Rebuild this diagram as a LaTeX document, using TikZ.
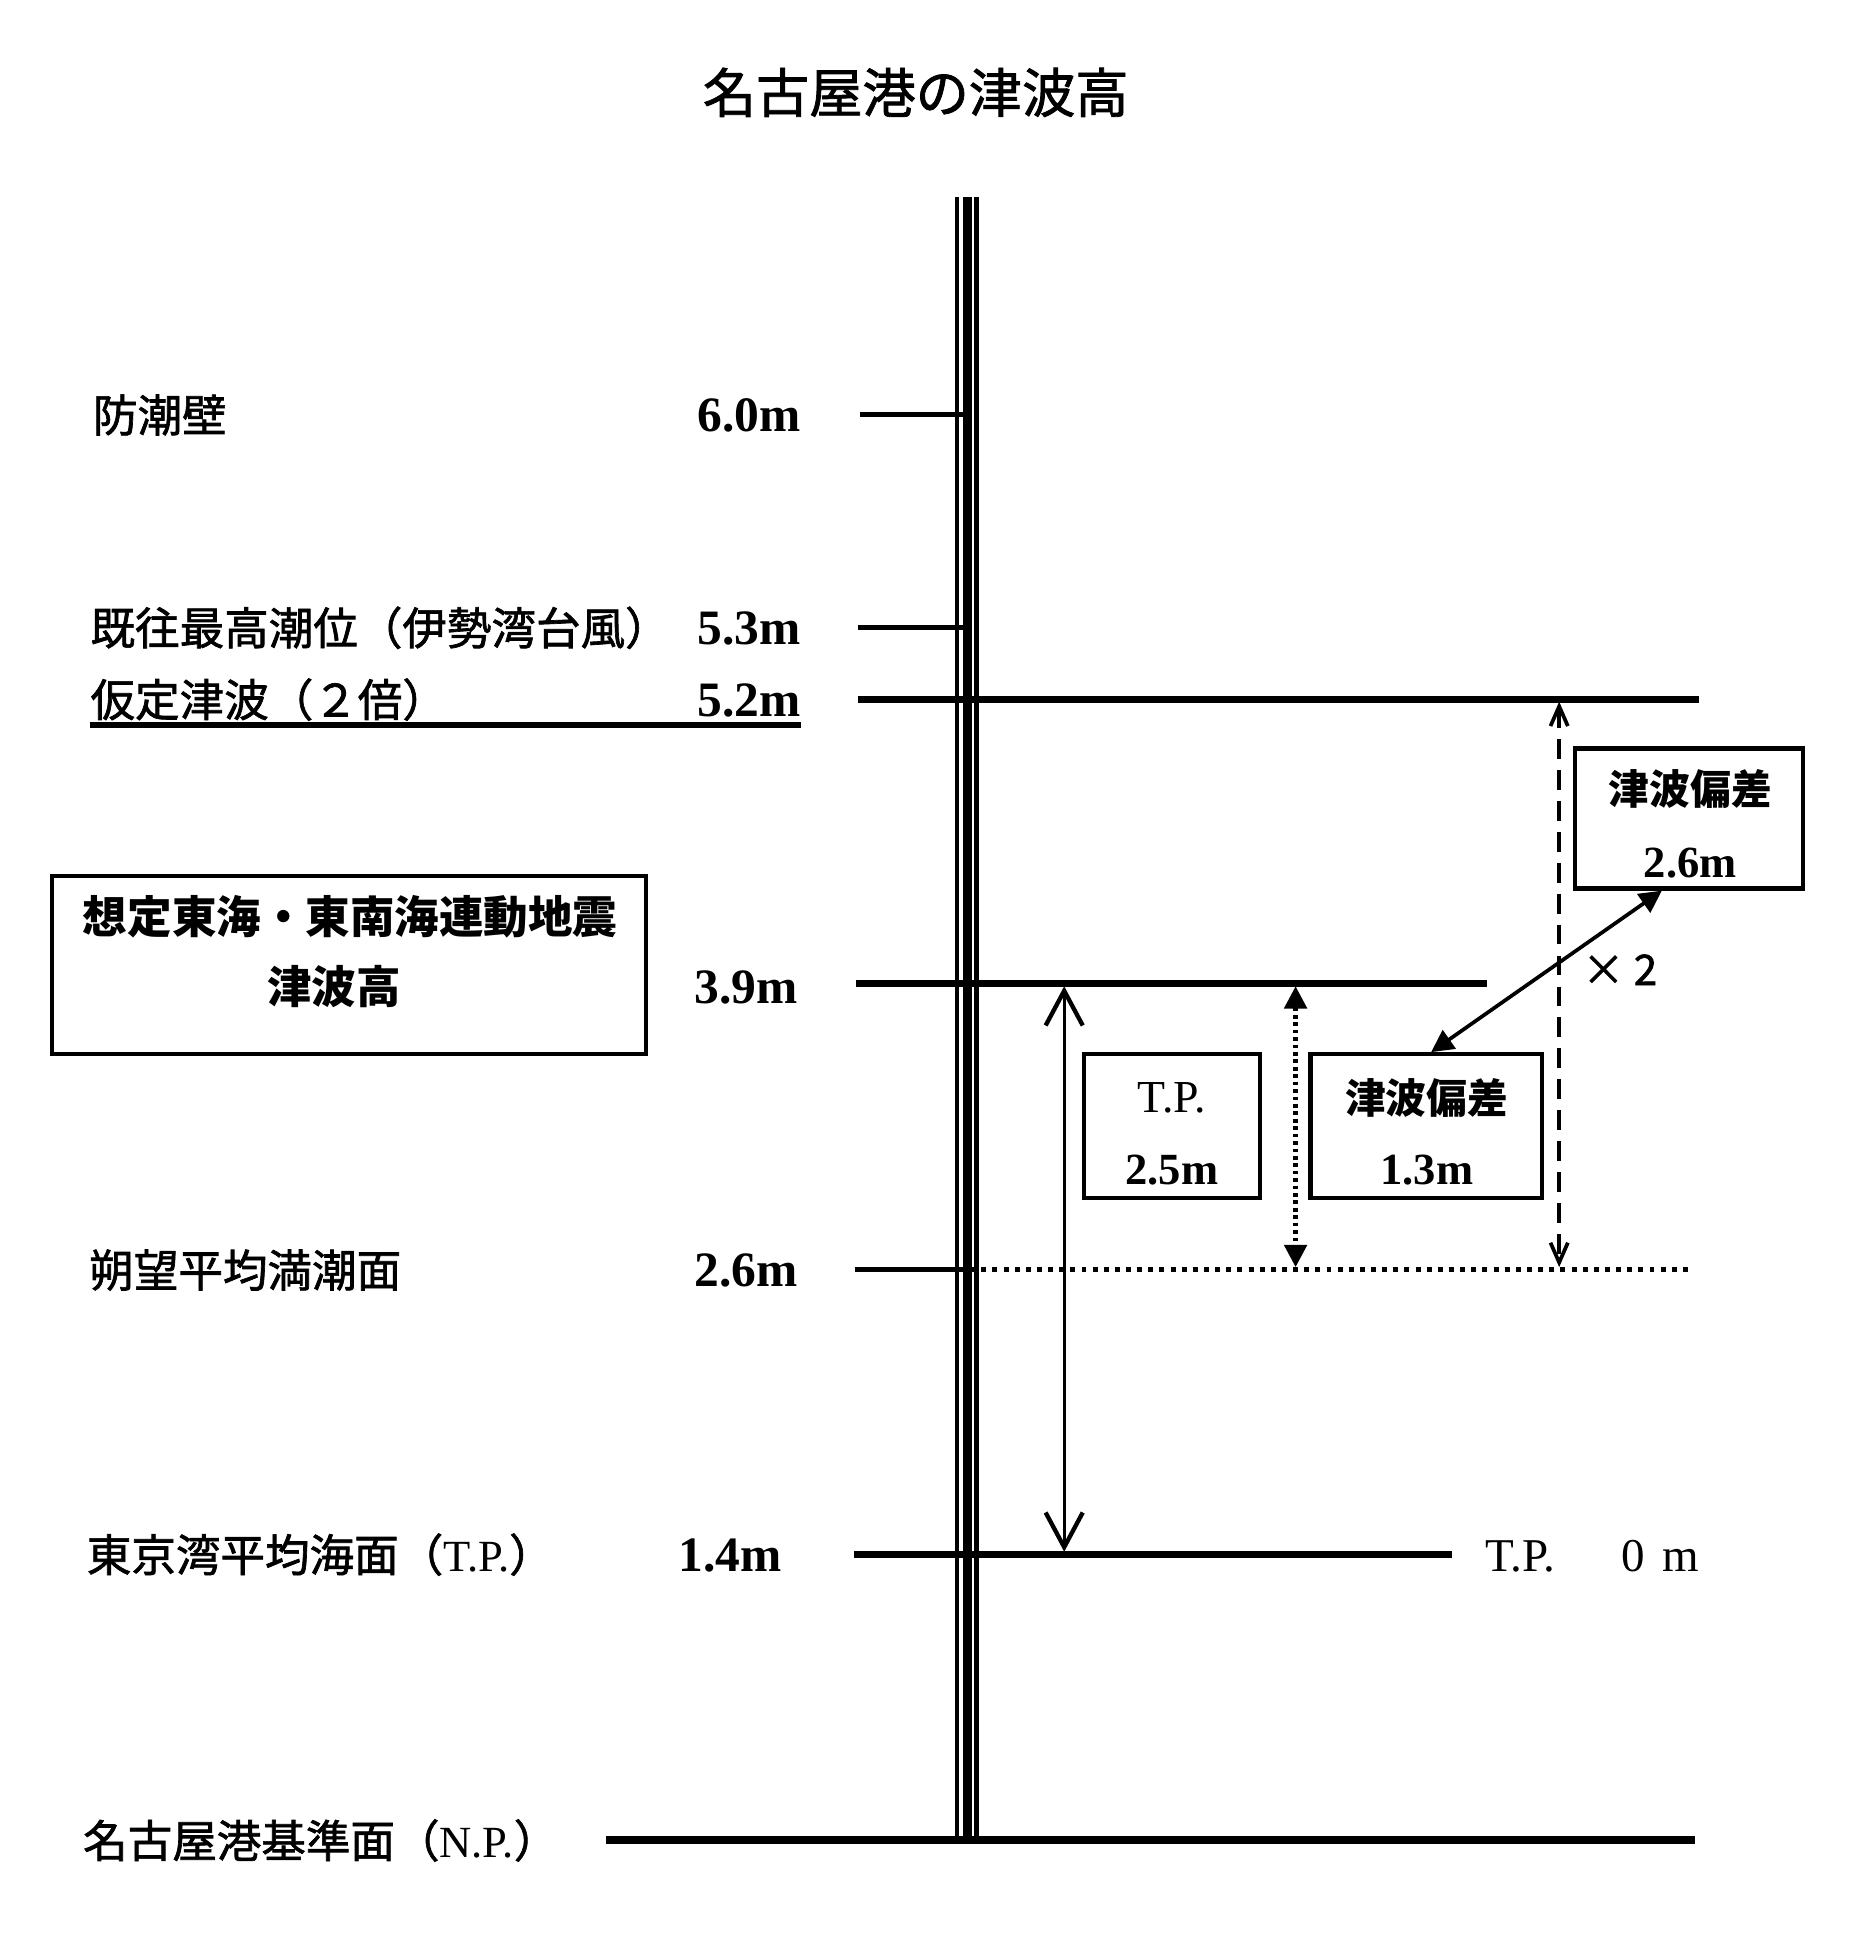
\documentclass[tikz,border=0pt]{standalone}
\usepackage{fontspec}
\setmainfont{Liberation Serif}
\newfontfamily\jp[FakeBold=1.5]{Noto Sans CJK JP}
\newfontfamily\jpb{Noto Sans CJK JP}
\usetikzlibrary{arrows.meta}
\tikzset{
  lbl/.style={anchor=base west, inner sep=0pt, font=\jp\fontsize{36}{40}\selectfont},
  num/.style={anchor=base east, inner sep=0pt, font=\bfseries\fontsize{40}{44}\selectfont},
  boxnum/.style={anchor=base, inner sep=0pt, font=\bfseries\fontsize{36}{40}\selectfont},
  boxjp/.style={anchor=base, inner sep=0pt, font=\jpb\bfseries\fontsize{33}{36}\selectfont},
  serifl/.style={anchor=base, inner sep=0pt, font=\fontsize{37}{40}\selectfont},
  framebox/.style={draw, line width=3.5pt, inner sep=0pt, rectangle},
  tick/.style={line width=4.5pt},
  level/.style={line width=5.5pt},
  barbtip/.tip={Straight Barb[length=28pt, width=30pt, line width=3.5pt]},
  smallbarbtip/.tip={Straight Barb[length=16pt, width=14pt, line width=3pt]},
  tritip/.tip={Triangle[length=18pt, width=18pt]}
}
\begin{document}
\begin{tikzpicture}[x=1pt,y=-1pt]
\useasboundingbox (0,0) rectangle (1500,1571);

% title
\node[anchor=base, inner sep=0pt, font=\jp\fontsize{43}{46}\selectfont] (title) at (740,91) {名古屋港の津波高};

% vertical triple line
\coordinate (vtop) at (781.7,159);
\coordinate (vbot) at (781.7,1490);
\draw[line width=3.4pt] ([xshift=-8.3pt]vtop) -- ([xshift=-8.3pt]vbot);
\draw[line width=7pt] (vtop) -- (vbot);
\draw[line width=4pt] ([xshift=7.8pt]vtop) -- ([xshift=7.8pt]vbot);

% level coordinates
\coordinate (a60) at (695,335);   \coordinate (b60) at (782,335);
\coordinate (a53) at (693,507);   \coordinate (b53) at (782,507);
\coordinate (a52) at (693,565);   \coordinate (b52) at (1373,565);
\coordinate (a39) at (692,795);   \coordinate (b39) at (1202,795);
\coordinate (a26) at (691,1026);  \coordinate (m26) at (775,1026); \coordinate (b26e) at (1367,1026);
\coordinate (a14) at (690,1256);  \coordinate (b14) at (1173,1256);
\coordinate (anp) at (490,1487);  \coordinate (bnp) at (1370,1487);

\draw[tick] (a60) -- (b60);
\draw[tick] (a53) -- (b53);
\draw[level] (a52) -- (b52);
\draw[level] (a39) -- (b39);
\draw[tick] (a26) -- (m26);
\draw[line width=4pt, dash pattern=on 4pt off 5pt] (m26) -- (b26e);
\draw[level] (a14) -- (b14);
\draw[line width=7pt] (anp) -- (bnp);

% left labels
\node[lbl] (l60) at (75,349) {防潮壁};
\node[num] (n60) at (647,349) {6.0m};
\node[lbl] (l53) at (73,521) {既往最高潮位（伊勢湾台風）};
\node[num] (n53) at (647,521) {5.3m};
\node[lbl] (l52) at (73,579) {仮定津波（２倍）};
\node[num] (n52) at (647,579) {5.2m};
\coordinate (ul1) at (73,586); \coordinate (ul2) at (647,586);
\draw[line width=5pt] (ul1) -- (ul2);
\node[num] (n39) at (645,811) {3.9m};
\node[lbl] (l26) at (72,1040) {朔望平均満潮面};
\node[num] (n26) at (645,1040) {2.6m};
\node[lbl] (l14) at (70,1270) {東京湾平均海面（{\rmfamily T.P.}）};
\node[num] (n14) at (632,1270) {1.4m};
\node[lbl] (lnp) at (67,1501) {名古屋港基準面（{\rmfamily N.P.}）};

% left box
\node[framebox, minimum width=480pt, minimum height=144pt] (lbox) at (282,780) {};
\node[anchor=base, inner sep=0pt, font=\jpb\bfseries\fontsize{36}{40}\selectfont] (lbox1) at (283,754) {想定東海・東南海連動地震};
\node[anchor=base, inner sep=0pt, font=\jpb\bfseries\fontsize{36}{40}\selectfont] (lbox2) at (270,811) {津波高};

% T.P. box
\node[framebox, minimum width=142pt, minimum height=116pt] (tpbox) at (947,910) {};
\node[serifl] (tp1) at (947,899) {T.P.};
\node[boxnum] (tp2) at (947,957) {2.5m};

% 1.3m box
\node[framebox, minimum width=187pt, minimum height=116pt] (b13) at (1152.5,910) {};
\node[boxjp] (b13a) at (1153,900) {津波偏差};
\node[boxnum] (b13b) at (1153,957) {1.3m};

% 2.6m box
\node[framebox, minimum width=184pt, minimum height=113pt] (b26) at (1365,661.5) {};
\node[boxjp] (b26a) at (1366,650) {津波偏差};
\node[boxnum] (b26b) at (1366,709) {2.6m};

% x 2
\node[anchor=base, inner sep=0pt, font=\jp\fontsize{34}{36}\selectfont] (times) at (1309,796) {× 2};

% T.P. 0 m
\node[anchor=base west, inner sep=0pt, font=\fontsize{38}{40}\selectfont] (tp0a) at (1200,1270) {T.P.};
\node[anchor=base west, inner sep=0pt, font=\fontsize{38}{40}\selectfont] (tp0b) at (1310,1270) {0\hspace{14pt}m};

% arrows
\coordinate (tpa1) at (860,797); \coordinate (tpa2) at (860,1254);
\draw[line width=2.5pt, barbtip-barbtip] (tpa1) -- (tpa2);

\coordinate (dt1) at (1047,797); \coordinate (dt2) at (1047,1024);
\draw[line width=3.5pt, dash pattern=on 3pt off 3pt, tritip-tritip] (dt1) -- (dt2);

\coordinate (ds1) at (1260,567); \coordinate (ds2) at (1260,1024);
\draw[line width=3.5pt, dash pattern=on 16pt off 9pt, smallbarbtip-smallbarbtip] (ds1) -- (ds2);

\draw[line width=3pt, tritip-tritip] ([xshift=4pt]b13.north) -- ([xshift=-22pt]b26.south);
\end{tikzpicture}
\end{document}
